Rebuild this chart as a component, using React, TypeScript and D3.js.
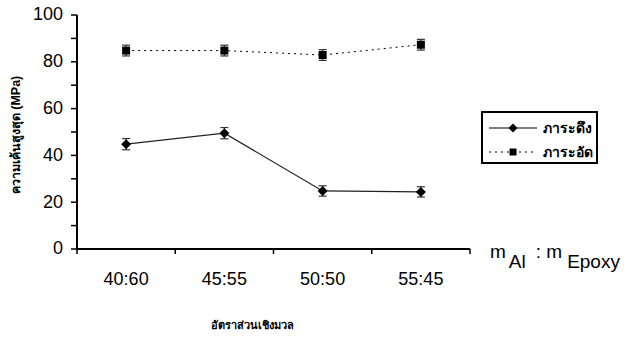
import React from 'react';
import * as d3 from 'd3';

const ratios = ['40:60', '45:55', '50:50', '55:45'];
const tension = [44.8, 49.5, 24.8, 24.4];
const tensionErr = [2.4, 2.4, 2.2, 2.2];
const compression = [84.8, 84.8, 82.9, 87.3];
const compressionErr = [2.3, 2.3, 2.3, 2.3];
const yTicks = [0, 20, 40, 60, 80, 100];
const yMinor = [10, 30, 50, 70, 90];

const W = 627;
const H = 338;
const left = 77;
const right = 470;
const top = 15;
const bottom = 249;
const numFont = '"Liberation Sans", Arial, sans-serif';

function Diamond({ x, y, r = 5 }: { x: number; y: number; r?: number }) {
  return <path d={`M${x},${y - r}L${x + r},${y}L${x},${y + r}L${x - r},${y}Z`} fill="#000" />;
}

function Square({ x, y, s = 8 }: { x: number; y: number; s?: number }) {
  return <rect x={x - s / 2} y={y - s / 2} width={s} height={s} fill="#000" />;
}

export default function App() {
  const x = d3.scaleBand().domain(ratios).range([left, right]);
  const y = d3.scaleLinear().domain([0, 100]).range([bottom, top]);
  const cx = (i: number) => (x(ratios[i]) as number) + x.bandwidth() / 2;
  const line = d3.line<number>().x((_, i) => cx(i)).y(d => y(d));

  const errBars = (vals: number[], errs: number[]) =>
    vals.map((v, i) => (
      <g key={i} stroke="#333" strokeWidth={1.2}>
        <line x1={cx(i)} x2={cx(i)} y1={y(v - errs[i])} y2={y(v + errs[i])} />
        <line x1={cx(i) - 4} x2={cx(i) + 4} y1={y(v - errs[i])} y2={y(v - errs[i])} />
        <line x1={cx(i) - 4} x2={cx(i) + 4} y1={y(v + errs[i])} y2={y(v + errs[i])} />
      </g>
    ));

  const xEdges = [left, ...ratios.map(r => (x(r) as number) + x.bandwidth())];

  return (
    <svg width={W} height={H} style={{ position: 'absolute', left: 0, top: 0, background: '#fff' }}>
      {/* y axis */}
      <line x1={left} x2={left} y1={top} y2={bottom} stroke="#000" strokeWidth={2} />
      {yTicks.map(t => (
        <g key={t}>
          <line x1={left - 6} x2={left} y1={y(t)} y2={y(t)} stroke="#000" strokeWidth={1.5} />
          <text x={left - 14} y={y(t)} dy="0.3em" textAnchor="end" fontFamily={numFont} fontSize={18}>
            {t}
          </text>
        </g>
      ))}
      {yMinor.map(t => (
        <line key={t} x1={left - 6} x2={left} y1={y(t)} y2={y(t)} stroke="#000" strokeWidth={1.5} />
      ))}

      {/* x axis */}
      <line x1={left} x2={right} y1={bottom} y2={bottom} stroke="#000" strokeWidth={2} />
      {xEdges.map((e, i) => (
        <line key={i} x1={e} x2={e} y1={bottom} y2={bottom + 5} stroke="#000" strokeWidth={1.5} />
      ))}
      {ratios.map((r, i) => (
        <text key={r} x={cx(i)} y={285} textAnchor="middle" fontFamily={numFont} fontSize={18}>
          {r}
        </text>
      ))}

      {/* series */}
      <path d={line(compression) || ''} fill="none" stroke="#000" strokeWidth={1} strokeDasharray="2,4" />
      <path d={line(tension) || ''} fill="none" stroke="#222" strokeWidth={1.2} />
      {errBars(compression, compressionErr)}
      {errBars(tension, tensionErr)}
      {compression.map((v, i) => <Square key={i} x={cx(i)} y={y(v)} />)}
      {tension.map((v, i) => <Diamond key={i} x={cx(i)} y={y(v)} />)}

      {/* legend */}
      <rect x={482} y={112} width={115} height={51} fill="#fff" stroke="#000" strokeWidth={2} />
      <line x1={489} x2={537} y1={128} y2={128} stroke="#000" strokeWidth={1.2} />
      <Diamond x={513} y={128} r={4.5} />
      <line x1={489} x2={537} y1={152} y2={152} stroke="#000" strokeWidth={1} strokeDasharray="2,4" />
      <Square x={513} y={152} s={7} />
      <text x={543} y={128} dy="0.35em" fontSize={14} fontWeight="bold" fontFamily="sans-serif">ภาระดึง</text>
      <text x={543} y={152} dy="0.35em" fontSize={14} fontWeight="bold" fontFamily="sans-serif">ภาระอัด</text>

      {/* mass ratio label */}
      <text x={490} y={258} fontFamily={numFont} fontSize={19}>
        m<tspan dx={3} dy={10}>Al</tspan>
        <tspan dx={10} dy={-10}>: m</tspan>
        <tspan dx={5} dy={10}>Epoxy</tspan>
      </text>

      {/* axis titles */}
      <text
        transform="translate(20,135) rotate(-90)"
        textAnchor="middle"
        fontSize={12.5}
        fontWeight="bold"
        fontFamily="sans-serif"
      >
        ความเค้นสูงสุด (MPa)
      </text>
      <text x={252} y={329} textAnchor="middle" fontSize={11} fontWeight="bold" fontFamily="sans-serif">
        อัตราส่วนเชิงมวล
      </text>
    </svg>
  );
}
